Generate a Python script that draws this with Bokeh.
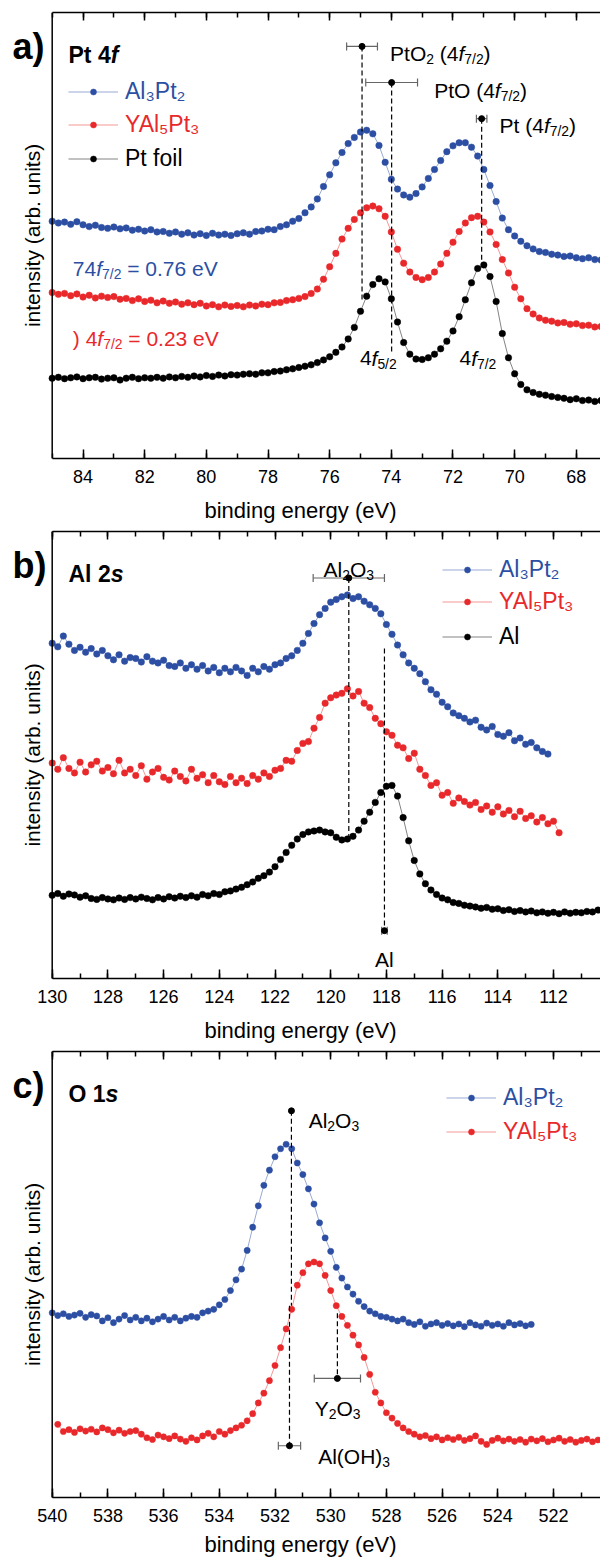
import math
import numpy as np
from bokeh.plotting import figure
from bokeh.models import (Range1d, LinearAxis, Label, Legend, LegendItem, Whisker, Span,
                          ColumnDataSource, TeeHead, SingleIntervalTicker,
                          CustomJSTickFormatter)
from bokeh.core.properties import value
from bokeh.layouts import column
from bokeh.embed import file_html
from bokeh.resources import INLINE

FONT = "Liberation Sans"
BLUE = "#2c4fa3"
RED = "#e8282b"
BLACK = "#000000"
STEP = 0.2

# ---------------- panel a: Pt 4f ----------------
a_start = 85.0
a_al3pt2 = [53.2, 52.8, 53.0, 52.5, 53.1, 52.4, 52.0, 52.3, 51.8, 51.6,
            51.9, 51.5, 51.7, 51.2, 51.4, 51.0, 51.3, 50.8, 50.9, 50.5,
            50.8, 50.3, 50.6, 50.1, 50.4, 50.0, 50.5, 50.1, 50.3, 50.0,
            50.4, 50.6, 50.3, 50.9, 51.0, 51.4, 51.3, 52.0, 52.4, 53.2,
            53.8, 55.1, 56.4, 58.2, 61.0, 63.6, 66.3, 68.6, 70.6, 72.0,
            73.2, 73.6, 72.8, 70.2, 66.4, 62.6, 60.4, 59.1, 58.6, 59.4,
            60.9, 62.8, 64.8, 66.8, 68.8, 70.1, 70.8, 70.8, 69.8, 67.8,
            64.8, 61.2, 57.6, 53.9, 51.3, 49.9, 48.7, 47.7, 47.0, 46.4,
            46.2, 45.8, 45.6, 45.3, 45.4, 45.0, 44.8, 45.0, 44.6, 44.5]
a_yal5pt3 = [37.2, 36.8, 37.0, 36.5, 36.9, 36.2, 36.6, 36.0, 36.4, 36.1,
             36.3, 35.7, 35.9, 35.4, 35.8, 35.2, 35.5, 34.9, 35.3, 34.8,
             35.1, 34.6, 34.9, 34.5, 34.8, 34.2, 34.5, 34.0, 34.4, 34.1,
             34.3, 34.0, 34.4, 34.2, 34.6, 34.5, 34.9, 35.0, 35.4, 35.6,
             35.9, 36.3, 37.0, 38.0, 40.2, 43.0, 46.0, 49.2, 51.6, 53.6,
             55.1, 56.2, 56.6, 56.0, 54.3, 50.8, 46.9, 43.8, 41.8, 40.6,
             40.1, 40.6, 41.8, 43.6, 46.0, 48.5, 50.9, 52.8, 54.0, 54.3,
             53.0, 50.8, 48.0, 44.6, 41.6, 38.4, 35.8, 33.6, 32.4, 31.5,
             31.0, 30.8, 30.4, 30.5, 30.1, 30.2, 29.8, 29.9, 29.5, 29.6]
a_ptfoil = [18.0, 18.2, 17.9, 18.1, 18.3, 17.9, 18.1, 18.2, 17.8, 18.0,
            18.1, 17.6, 18.0, 18.2, 17.9, 18.1, 18.0, 18.2, 18.0, 18.3,
            18.1, 18.4, 18.2, 18.5, 18.3, 18.6, 18.4, 18.7, 18.5, 18.8,
            18.7, 18.9, 19.0, 18.9, 19.2, 19.2, 19.5, 19.6, 19.9, 20.1,
            20.4, 20.7, 21.0, 21.5, 22.1, 22.8, 23.8, 25.0, 26.8, 29.4,
            33.0, 36.4, 39.0, 40.3, 39.6, 35.8, 30.6, 26.0, 23.4, 22.3,
            22.2, 22.6, 23.4, 24.6, 26.3, 28.6, 31.8, 35.6, 39.4, 42.6,
            43.4, 40.8, 35.2, 28.0, 22.6, 19.0, 16.6, 15.4, 14.8, 14.4,
            14.2, 13.9, 13.7, 13.5, 13.2, 13.4, 13.0, 13.1, 12.8, 13.0]
a_ref_names = ["PtO2", "PtO", "Pt"]
a_ref_x = [74.95, 73.99, 71.07]
a_ref_y = [92.4, 84.3, 76.2]
a_ref_err = [0.50, 0.84, 0.17]
a_ref_ylow = [35.6, 23.7, 43.5]

# ---------------- panel b: Al 2s ----------------
b_start = 130.0
b_al3pt2 = [75.0, 74.2, 76.6, 74.8, 73.4, 74.1, 73.0, 73.8, 72.6, 73.4,
            72.2, 71.3, 72.4, 71.0, 71.8, 71.6, 70.8, 72.0, 71.0, 70.6,
            71.2, 70.0, 69.8, 70.6, 69.4, 70.2, 69.2, 70.0, 68.8, 69.6,
            68.4, 69.4, 68.6, 69.6, 68.8, 67.8, 69.4, 68.6, 69.8, 69.2,
            70.2, 70.6, 71.6, 72.2, 73.4, 75.0, 77.2, 79.4, 81.4, 82.8,
            84.2, 84.8, 85.4, 85.8, 85.0, 85.4, 84.4, 83.6, 82.8, 81.6,
            79.2, 77.0, 74.6, 72.4, 70.6, 69.4, 68.2, 66.4, 64.6, 63.6,
            61.8, 60.8, 59.4, 58.8, 58.2, 57.4, 57.8, 56.2, 55.6, 56.4,
            54.6, 54.2, 55.0, 53.2, 53.8, 52.4, 52.8, 51.6, 50.8, 50.2]
b_yal5pt3 = [48.2, 46.8, 49.4, 47.0, 46.0, 48.4, 46.2, 47.8, 48.6, 46.4,
             47.2, 45.8, 48.8, 46.0, 46.8, 45.4, 47.6, 44.6, 46.2, 47.0,
             45.0, 44.4, 46.4, 45.2, 44.2, 46.8, 44.8, 45.6, 43.8, 45.4,
             44.0, 43.4, 45.2, 43.8, 44.8, 43.6, 45.4, 44.6, 46.0, 45.2,
             46.6, 47.0, 48.8, 48.6, 51.0, 52.6, 53.0, 56.0, 58.4, 61.6,
             62.8, 63.4, 63.8, 64.8, 63.2, 64.2, 61.6, 60.6, 58.2, 57.0,
             55.2, 54.4, 52.2, 51.6, 49.2, 50.4, 46.8, 45.4, 43.2, 43.8,
             41.0, 41.6, 39.2, 40.4, 39.6, 38.8, 39.4, 37.8, 38.6, 37.2,
             38.4, 36.8, 37.6, 36.2, 37.4, 35.8, 36.4, 35.0, 36.0, 34.6,
             35.2, 32.6]
b_al = [18.6, 19.0, 18.4, 18.9, 18.7, 18.2, 18.5, 17.9, 17.7, 18.1,
        17.8, 17.6, 18.0, 17.7, 18.1, 17.8, 18.2, 17.9, 17.6, 18.1,
        17.8, 18.3, 18.0, 18.4, 18.1, 18.5, 18.2, 18.8, 18.5, 19.0,
        18.8, 19.4, 19.6, 20.0, 20.4, 21.0, 21.6, 22.4, 23.0, 23.8,
        25.0, 26.6, 28.2, 29.8, 31.2, 32.2, 32.8, 33.0, 33.2, 32.8,
        32.6, 31.6, 31.0, 31.2, 31.8, 33.2, 35.2, 37.2, 39.4, 41.6,
        43.0, 43.2, 40.8, 36.0, 30.8, 26.4, 23.4, 21.2, 19.8, 18.8,
        18.0, 17.6, 17.0, 16.8, 16.4, 16.2, 16.0, 15.7, 15.9, 15.5,
        15.6, 15.2, 15.4, 15.0, 15.2, 14.9, 15.1, 14.7, 14.9, 14.6,
        14.8, 14.5, 14.9, 14.6, 14.8, 14.7, 15.0, 14.9, 15.3]
b_ref_x = [119.35, 118.07]
b_ref_y = [89.6, 10.7]
b_ref_err = [1.28, 0.10]
b_dash_x = [119.35, 118.07]
b_dash_top = [89.6, 73.8]
b_dash_bottom = [31.3, 10.7]

# ---------------- panel c: O 1s ----------------
c_blue_start = 540.0
c_red_start = 539.8
c_al3pt2 = [41.4, 40.8, 41.2, 40.6, 40.9, 41.3, 40.4, 41.0, 40.7, 39.6,
            40.3, 39.2, 40.0, 40.8, 39.8, 40.4, 39.6, 40.2, 39.4, 40.0,
            40.6, 39.8, 40.4, 39.6, 40.2, 40.6, 40.4, 41.4, 41.8, 42.2,
            43.2, 44.4, 46.4, 48.8, 51.2, 55.4, 60.6, 65.4, 70.0, 73.4,
            76.4, 78.2, 79.2, 78.2, 75.0, 72.4, 69.2, 65.8, 61.6, 58.2,
            55.2, 51.6, 49.2, 47.2, 45.6, 44.0, 42.8, 41.8, 41.2, 40.6,
            40.4, 40.0, 39.6, 40.0, 39.2, 38.8, 39.4, 38.4, 38.9, 39.2,
            38.6, 39.0, 38.5, 38.9, 38.3, 39.2, 38.7, 38.4, 39.1, 38.6,
            38.9, 38.4, 39.2, 38.7, 39.0, 38.5, 38.8]
c_yal5pt3 = [16.4, 14.8, 15.2, 14.6, 15.4, 14.9, 15.3, 14.7, 15.6, 15.2,
             14.5, 15.1, 14.4, 14.8, 15.0, 14.2, 13.4, 13.0, 14.0, 13.6,
             13.2, 13.8, 13.1, 12.6, 13.4, 12.9, 13.8, 14.4, 13.6, 14.8,
             14.2, 15.0, 15.6, 16.2, 17.2, 18.8, 21.2, 23.4, 26.2, 29.6,
             33.6, 37.8, 42.2, 47.6, 50.4, 52.4, 52.8, 52.4, 49.8, 46.4,
             43.0, 40.6, 38.6, 36.4, 34.2, 31.4, 27.6, 23.6, 21.2, 19.0,
             17.8, 16.6, 15.6, 14.8, 14.2, 13.6, 13.9, 13.2, 13.6, 12.9,
             13.4, 13.0, 13.5, 12.8, 13.2, 13.8, 12.6, 11.9, 12.8, 13.3,
             12.7, 13.1, 12.6, 13.0, 12.4, 13.1, 12.7, 13.2, 12.5, 12.9,
             13.3, 12.6, 13.0, 12.4, 12.8, 13.1, 12.5, 12.9]
c_ref_x = [531.41, 531.48, 529.76]
c_ref_y = [86.7, 11.6, 26.7]
c_ref_err = [0.0, 0.40, 0.83]
c_dash_x = [531.41, 531.48, 529.76]
c_dash_top = [86.7, 43.0, 41.3]
c_dash_bottom = [43.0, 11.6, 26.7]

# ------------- text metrics (Arial / Liberation Sans advance widths) -------------
W_REG = {' ': 278, '\u00a0': 278, '(': 333, ')': 333, '/': 278, '.': 278, '=': 584,
         'A': 667, 'H': 722, 'O': 778, 'P': 667, 'Y': 667, 'V': 667, 'l': 222,
         't': 278, 'f': 278, 'e': 556, 's': 500}
W_BOLD = {' ': 278, '\u00a0': 278, 'P': 667, 't': 333, 'f': 333, 'A': 722, 'l': 278,
          'O': 778, 's': 556, ')': 333}


def run_width(s, size, bold=False):
    tab = W_BOLD if bold else W_REG
    return sum(tab.get(ch, 556) for ch in s) * size / 1000.0


def put_runs(p, x, y, runs, size, color, align="left", dx=0.0, dy=0.0, units="data"):
    """Rich label from runs: n=normal, i=italic, s=subscript, b=bold, bi=bold italic."""
    pieces = []
    for text, kind in runs:
        text = text.replace(" ", "\u00a0")
        fs = size * 0.66 if kind == "s" else size
        bold = kind in ("b", "bi")
        style = {"n": "normal", "i": "italic", "s": "normal", "b": "bold",
                 "bi": "bold italic"}[kind]
        pieces.append((text, fs, style, run_width(text, fs, bold), kind))
    total = sum(pc[3] for pc in pieces)
    off = dx - (total / 2.0 if align == "center" else 0.0)
    for text, fs, style, w, kind in pieces:
        yoff = dy - (0.26 * size if kind == "s" else 0.0)
        p.add_layout(Label(x=x, y=y, x_units=units, y_units=units, text=text,
                           x_offset=off, y_offset=yoff,
                           text_font=FONT, text_font_size=f"{fs:.1f}px",
                           text_font_style=style, text_color=color,
                           text_align="left", text_baseline="alphabetic"))
        off += w


AXIS_PX = 51.7  # the intensity axis sits this many pixels right of the canvas edge


def make_panel(x_left, px_per_ev, height, top_border, bottom_border, frame_h,
               label_standoff):
    x0 = x_left + AXIS_PX / px_per_ev
    x1 = x_left - (600 - AXIS_PX) / px_per_ev
    p = figure(width=600, height=height, x_range=Range1d(x0, x1), y_range=Range1d(0, 100),
               output_backend="svg", toolbar_location=None,
               x_axis_location=None, y_axis_location=None,
               min_border_left=0, min_border_right=0, min_border_top=top_border,
               min_border_bottom=bottom_border)
    p.outline_line_color = None
    p.grid.visible = False
    p.background_fill_color = "white"
    p.border_fill_color = "white"

    bottom = LinearAxis(ticker=SingleIntervalTicker(interval=2, num_minor_ticks=2),
                        axis_label="binding energy (eV)", bounds=(x1, x_left))
    top = LinearAxis(ticker=SingleIntervalTicker(interval=2, num_minor_ticks=2),
                     formatter=CustomJSTickFormatter(code="return ''"), bounds=(x1, x_left))
    for ax in (bottom, top):
        ax.axis_line_width = 1.5
        ax.axis_line_color = BLACK
        ax.major_tick_line_width = 1.5
        ax.minor_tick_line_width = 1.5
        ax.major_tick_in = 9
        ax.major_tick_out = 0
        ax.minor_tick_in = 5
        ax.minor_tick_out = 0
    bottom.major_label_text_font = FONT
    bottom.major_label_text_font_size = "18px"
    bottom.major_label_text_color = BLACK
    bottom.major_label_standoff = 11
    bottom.axis_label_text_font = FONT
    bottom.axis_label_text_font_size = "22px"
    bottom.axis_label_text_font_style = "normal"
    bottom.axis_label_text_color = BLACK
    bottom.axis_label_standoff = label_standoff
    top.major_label_text_font_size = "0px"
    top.major_label_standoff = 0
    top.major_tick_in = 8
    p.add_layout(bottom, "below")
    p.add_layout(top, "above")

    # intensity axis (no ticks): a vertical rule at the high-energy start and its title
    p.add_layout(Span(location=x_left, dimension="height", line_color=BLACK, line_width=1.5))
    p.add_layout(Label(x=32, y=frame_h / 2.0, x_units="screen", y_units="screen",
                       text="intensity (arb. units)", angle=math.pi / 2,
                       text_font=FONT, text_font_size="21px", text_color=BLACK,
                       text_align="center", text_baseline="alphabetic"))
    return p


def energies(start, n):
    return np.round(start - STEP * np.arange(n), 2)


def add_series(p, start, vals, color, size):
    src = ColumnDataSource(dict(x=energies(start, len(vals)), y=vals))
    ln = p.line("x", "y", source=src, line_color=color, line_width=0.9, line_alpha=0.55)
    sc = p.scatter("x", "y", source=src, size=size, fill_color=color, line_color=color,
                   line_width=0.5)
    return [ln, sc]


def add_legend(p, rends, label, color, vx, vy_center):
    leg = Legend(items=[LegendItem(label=value(label), renderers=rends)],
                 location=(vx, vy_center - 15), glyph_width=50, glyph_height=15,
                 label_height=26, label_standoff=7, padding=0, margin=0, spacing=0,
                 border_line_color=None, background_fill_alpha=0,
                 label_text_font=FONT, label_text_font_size="23px",
                 label_text_color=color)
    p.add_layout(leg)


def add_refs(p, xs, ys, errs, dash_x, dash_top, dash_bottom):
    p.segment(x0=dash_x, y0=dash_top, x1=dash_x, y1=dash_bottom, line_color=BLACK,
              line_width=1.2, line_dash="5 3")
    wx = [x for x, e in zip(xs, errs) if e > 0]
    wy = [y for y, e in zip(ys, errs) if e > 0]
    we = [e for e in errs if e > 0]
    wsrc = ColumnDataSource(dict(base=wy, lower=[x - e for x, e in zip(wx, we)],
                                 upper=[x + e for x, e in zip(wx, we)]))
    p.add_layout(Whisker(source=wsrc, base="base", lower="lower", upper="upper",
                         dimension="width", line_color="#666666", line_width=1.2,
                         upper_head=TeeHead(size=8, line_color="#666666", line_width=1.2),
                         lower_head=TeeHead(size=8, line_color="#666666", line_width=1.2)))
    p.scatter(x=xs, y=ys, size=6, fill_color=BLACK, line_color=BLACK)


def header(p, frame_h, letter, runs):
    # screen units: measured from the frame's bottom-left corner
    put_runs(p, 0, frame_h, [(letter, "b")], 36, BLACK, dx=12, dy=-34, units="screen")
    put_runs(p, 0, frame_h, runs, 23, BLACK, dx=68, dy=-42, units="screen")


# ======================= panel a =======================
pa = make_panel(85.0, 30.83, 526, 12, 68, 446, 12)
ra_b = add_series(pa, a_start, a_al3pt2, BLUE, 6.5)
ra_r = add_series(pa, a_start, a_yal5pt3, RED, 6.5)
ra_k = add_series(pa, a_start, a_ptfoil, BLACK, 6.5)
add_refs(pa, a_ref_x, a_ref_y, a_ref_err, a_ref_x, a_ref_y, a_ref_ylow)
add_legend(pa, ra_b, "Al\u2083Pt\u2082", BLUE, 68, 368)
add_legend(pa, ra_r, "YAl\u2085Pt\u2083", RED, 68, 335)
add_legend(pa, ra_k, "Pt foil", BLACK, 68, 301)
header(pa, 446, "a)", [("Pt 4", "b"), ("f", "bi")])
put_runs(pa, 74.04, 90.7, [("PtO", "n"), ("2", "s"), (" (4", "n"), ("f", "i"), ("7/2", "s"), (")", "n")], 21, BLACK)
put_runs(pa, 72.61, 82.6, [("PtO (4", "n"), ("f", "i"), ("7/2", "s"), (")", "n")], 21, BLACK)
put_runs(pa, 70.49, 74.6, [("Pt (4", "n"), ("f", "i"), ("7/2", "s"), (")", "n")], 21, BLACK)
put_runs(pa, 75.02, 22.5, [("4", "n"), ("f", "i"), ("5/2", "s")], 21, BLACK)
put_runs(pa, 71.79, 22.5, [("4", "n"), ("f", "i"), ("7/2", "s")], 21, BLACK)
put_runs(pa, 84.33, 42.6, [("74", "n"), ("f", "i"), ("7/2", "s"), (" = 0.76 eV", "n")], 21, BLUE)
put_runs(pa, 84.33, 26.9, [(") 4", "n"), ("f", "i"), ("7/2", "s"), (" = 0.23 eV", "n")], 21, RED)

# ======================= panel b =======================
pb = make_panel(130.0, 27.85, 520, 5, 68, 447, 12)
rb_b = add_series(pb, b_start, b_al3pt2, BLUE, 6.5)
rb_r = add_series(pb, b_start, b_yal5pt3, RED, 6.5)
rb_k = add_series(pb, b_start, b_al, BLACK, 6.5)
add_refs(pb, b_ref_x, b_ref_y, b_ref_err, b_dash_x, b_dash_top, b_dash_bottom)
add_legend(pb, rb_b, "Al\u2083Pt\u2082", BLUE, 442, 410)
add_legend(pb, rb_r, "YAl\u2085Pt\u2083", RED, 442, 378)
add_legend(pb, rb_k, "Al", BLACK, 442, 343)
header(pb, 447, "b)", [("Al 2", "b"), ("s", "bi")])
put_runs(pb, 119.35, 91.4, [("Al", "n"), ("2", "s"), ("O", "n"), ("3", "s")], 21, BLACK, align="center")
put_runs(pb, 118.07, 4.3, [("Al", "n")], 21, BLACK, align="center")

# ======================= panel c =======================
pc = make_panel(540.0, 27.85, 514, 5, 63, 446, 7)
rc_b = add_series(pc, c_blue_start, c_al3pt2, BLUE, 6.2)
rc_r = add_series(pc, c_red_start, c_yal5pt3, RED, 6.2)
add_refs(pc, c_ref_x, c_ref_y, c_ref_err, c_dash_x, c_dash_top, c_dash_bottom)
add_legend(pc, rc_b, "Al\u2083Pt\u2082", BLUE, 446, 401)
add_legend(pc, rc_r, "YAl\u2085Pt\u2083", RED, 446, 367)
header(pc, 446, "c)", [("O 1", "b"), ("s", "bi")])
put_runs(pc, 530.79, 84.5, [("Al", "n"), ("2", "s"), ("O", "n"), ("3", "s")], 21, BLACK)
put_runs(pc, 529.75, 20.0, [("Y", "n"), ("2", "s"), ("O", "n"), ("3", "s")], 21, BLACK, align="center")
put_runs(pc, 530.45, 9.2, [("Al(OH)", "n"), ("3", "s")], 21, BLACK)

layout = column(pa, pb, pc)
open("out.html", "w").write(file_html(layout, INLINE))
